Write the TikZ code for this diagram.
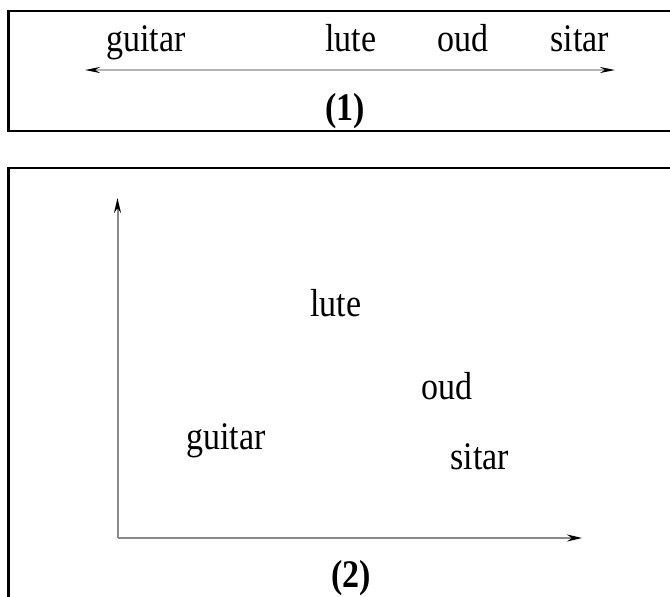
\documentclass[tikz,border=0pt]{standalone}
\usepackage{fontspec}
\setmainfont{Liberation Serif}
\usepackage{graphicx}
\usepackage{tikz}
\usetikzlibrary{arrows.meta,positioning}
\definecolor{axisc}{HTML}{8A8A8A}
\definecolor{linec}{HTML}{B4B4B4}
\newcommand{\tallword}[1]{\scalebox{1}[1.15]{#1}}
\tikzset{
  ax/.style={axisc,line width=1pt},
  tip/.style={-{Stealth[length=7.5pt,width=3.5pt,black]}},
  wd/.style={font=\fontsize{17}{19}\selectfont,inner sep=0pt,anchor=base},
  paneltag/.style={font=\fontsize{17}{19}\selectfont\bfseries,inner sep=0pt,anchor=base},
  panel/.style={draw=black,line width=1.4pt}
}
\begin{document}
\begin{tikzpicture}[x=0.5pt,y=-0.5pt]
\clip (0,0) rectangle (670,596);
\fill[white] (0,0) rectangle (670,596);
% panel (1)
\draw[panel] (700,11) -- (8.5,11) -- (8.5,131) -- (700,131);
\coordinate (L1) at (85,70); \coordinate (R1) at (615,70);
\draw[linec,line width=0.9pt,{Stealth[length=7.5pt,width=3pt,black]}-{Stealth[length=7.5pt,width=3pt,black]}] (L1)--(R1);
\node[wd] (guitar1) at (146,51) {\tallword{guitar}}; \node[wd] (lute1) at (351,51) {\tallword{lute}};
\node[wd] (oud1) at (463,51) {\tallword{oud}}; \node[wd] (sitar1) at (580,51) {\tallword{sitar}};
\node[paneltag] (one) at (345,120) {\tallword{(1)}};
% panel (2)
\draw[panel] (700,168) -- (8.5,168) -- (8.5,640);
\coordinate (O) at (117.5,538); \coordinate (Y) at (117.5,198); \coordinate (X) at (582,538);
\draw[ax,tip] (O)--(Y);
\draw[ax,tip] (O)--(X);
\node[wd] (lute2) at (336,316) {\tallword{lute}}; \node[wd] (oud2) at (447,399) {\tallword{oud}};
\node[wd] (guitar2) at (226,449) {\tallword{guitar}}; \node[wd] (sitar2) at (480,469) {\tallword{sitar}};
\node[paneltag] (two) at (351,587) {\tallword{(2)}};
\end{tikzpicture}
\end{document}
